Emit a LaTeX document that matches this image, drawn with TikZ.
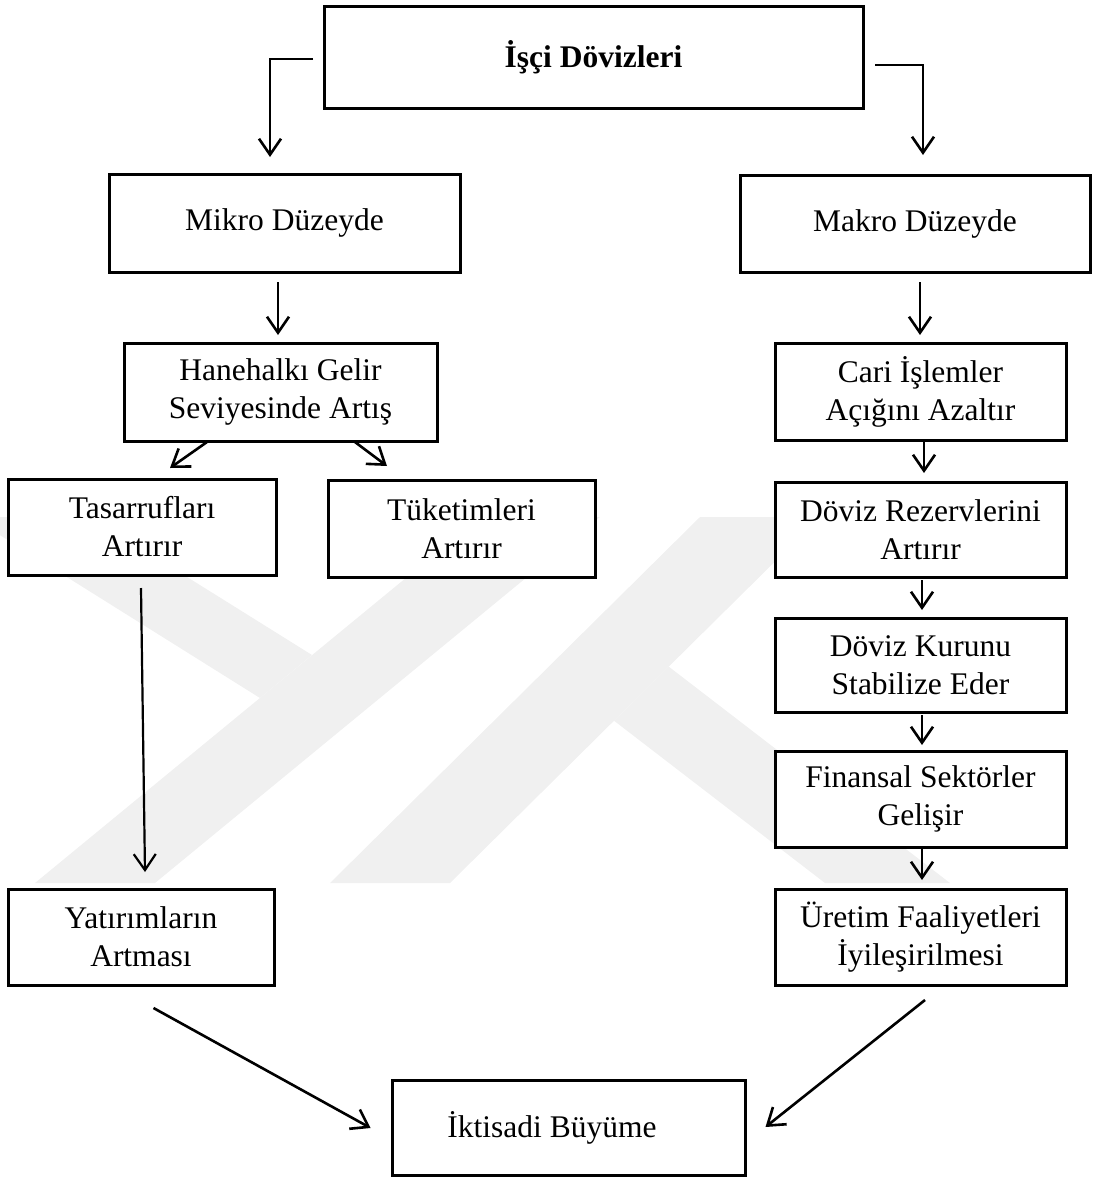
\documentclass[tikz,border=0pt]{standalone}
\usepackage{fontspec}
\setmainfont{Liberation Serif}
\usetikzlibrary{arrows.meta,calc}
\definecolor{wmgray}{RGB}{240,240,240}
\begin{document}
\begin{tikzpicture}[x=1pt,y=-1pt,
  box/.style={draw=black, line width=3pt, fill=white, inner sep=0pt, outer sep=0pt,
    align=center, font=\fontsize{31.5}{38}\selectfont},
  link/.style={line width=2.6pt, -{Straight Barb[length=16pt,width=22pt]}},
  wmband/.style={fill=wmgray, draw=none}
]
\useasboundingbox (0,0) rectangle (1096,1178);

% faint background emblem
\fill[wmband] (-29,517) -- (91,517) -- (312,655) -- (260,698) -- cycle;
\fill[wmband] (35,883) -- (155,883) -- (600,517) -- (480,517) -- cycle;
\fill[wmband] (330,883) -- (450,883) -- (820,517) -- (700,517) -- cycle;
\fill[wmband] (668.6,666.5) -- (950,883) -- (825,883) -- (614,720.7) -- cycle;

% boxes
\node[box, minimum width=539pt, minimum height=102pt,
      font=\bfseries\fontsize{31.5}{38}\selectfont] (isci) at (593.5,57) {İşçi Dövizleri};
\node[box, minimum width=351pt, minimum height=98pt] (mikro) at (284.5,223) {Mikro Düzeyde};
\node[box, minimum width=350pt, minimum height=97pt] (makro) at (915,223.5) {Makro Düzeyde};
\node[box, minimum width=313pt, minimum height=98pt] (hane) at (280.5,392) {Hanehalkı Gelir\\Seviyesinde Artış};
\node[box, minimum width=291pt, minimum height=97pt] (cari) at (920.5,391.5) {Cari İşlemler\\Açığını Azaltır};
\node[box, minimum width=268pt, minimum height=96pt] (tas) at (142,527) {Tasarrufları\\Artırır};
\node[box, minimum width=267pt, minimum height=97pt] (tuk) at (461.5,528.5) {Tüketimleri\\Artırır};
\node[box, minimum width=291pt, minimum height=95pt] (dovr) at (920.5,529.5) {Döviz Rezervlerini\\Artırır};
\node[box, minimum width=291pt, minimum height=94pt] (dovk) at (920.5,665) {Döviz Kurunu\\Stabilize Eder};
\node[box, minimum width=291pt, minimum height=96pt] (fin) at (920.5,799) {Finansal Sektörler\\Gelişir};
\node[box, minimum width=291pt, minimum height=96pt] (uret) at (920.5,937) {Üretim Faaliyetleri\\İyileşirilmesi};
\node[box, minimum width=266pt, minimum height=96pt] (yat) at (141,937) {Yatırımların\\Artması};
\node[box, minimum width=353pt, minimum height=95pt] (ikt) at (568.5,1127.5) {};
\node[font=\fontsize{31.5}{38}\selectfont, inner sep=0pt] (ikttext) at (552,1128) {İktisadi Büyüme};

% connectors
\draw[link] ($(isci.west)+(-11,2)$) -| ($(mikro.north)+(-14.5,-17)$);
\draw[link] ($(isci.east)+(12,8)$) -| ($(makro.north)+(8,-20)$);
\draw[link] ($(mikro.south)+(-6.5,10)$) -- ($(hane.north)+(-2.5,-8)$);
\draw[link] ($(makro.south)+(5,10)$) -- ($(cari.north)+(-0.5,-8)$);
\draw[link] ($(hane.south)+(-73.5,1)$) -- ($(tas.north)+(28,-11)$);
\draw[link] ($(hane.south)+(74.5,1)$) -- ($(tuk.north)+(-74.5,-14)$);
\draw[link, line width=2.2pt] ($(tas.south)+(-1,13)$) -- ($(yat.north)+(4,-17)$);
\draw[link] ($(cari.south)+(3.5,2)$) -- ($(dovr.north)+(3.5,-9)$);
\draw[link] ($(dovr.south)+(1.5,3)$) -- ($(dovk.north)+(1.5,-8)$);
\draw[link] ($(dovk.south)+(1.5,3)$) -- ($(fin.north)+(1.5,-6)$);
\draw[link] ($(fin.south)+(1.5,1)$) -- ($(uret.north)+(1.5,-9)$);
\draw[link] ($(yat.south)+(12.5,23)$) -- ($(ikt.west)+(-21.4,0.5)$);
\draw[link] ($(uret.south)+(4.5,15)$) -- ($(ikt.east)+(20.5,-0.5)$);
\end{tikzpicture}
\end{document}
